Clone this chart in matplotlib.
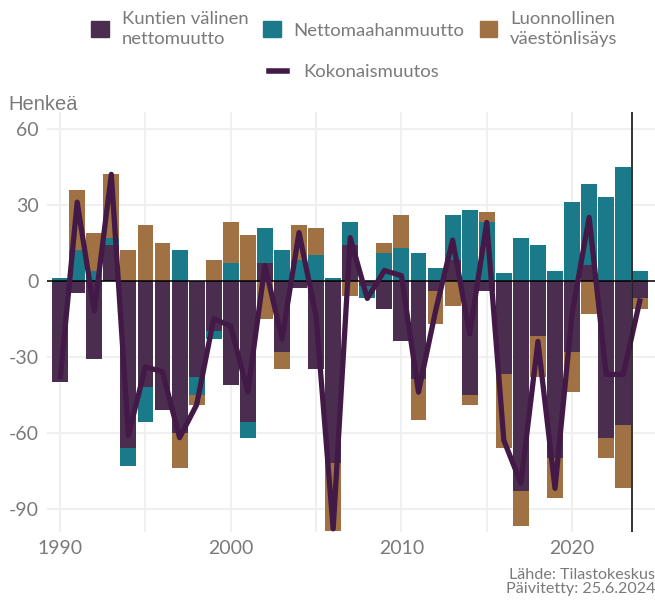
import numpy as np
import matplotlib.pyplot as plt
from matplotlib.patches import Patch
from matplotlib.lines import Line2D

plt.rcParams["axes.unicode_minus"] = False

years = list(range(1990, 2025))
kuntien = [-40, -5, -31, 14, -66, -42, -51, -60, -38, -20,
           -41, -56, 7, -28, -3, -35, -72, 14, -2, -11,
           -24, -39, -4, 8, -45, -4, -37, -83, -22, -70,
           -28, 6, -62, -57, -7]
netto = [1, 12, 4, 3, -7, -14, 0, 12, -7, -3,
         7, -6, 14, 12, 8, 10, 1, 9, -5, 11,
         13, 11, 5, 18, 28, 23, 3, 17, 14, 4,
         31, 32, 33, 45, 4]
luonn = [0, 24, 15, 25, 12, 22, 15, -14, -4, 8,
         16, 18, -15, -7, 14, 11, -27, -6, 0, 4,
         13, -16, -13, -10, -4, 4, -29, -14, -16, -16,
         -16, -13, -8, -25, -4]
kokonais = [-39, 31, -12, 42, -61, -34, -36, -62, -49, -15,
            -18, -44, 6, -23, 19, -14, -98, 17, -7, 4,
            2, -44, -12, 16, -21, 23, -63, -80, -24, -82,
            -13, 25, -37, -37, -7]
labels = ["Kuntien välinen\nnettomuutto", "Nettomaahanmuutto", "Luonnollinen\nväestönlisäys"]
colors = ["#4b2e4f", "#1b7a89", "#a07243"]
line_col = "#431a47"
grey = "#7a7a7a"

fig = plt.figure(figsize=(6.55, 6.01), dpi=100)
ax = fig.add_axes([0.072, 0.115, 0.928, 0.699])

pos = np.zeros(len(years))
neg = np.zeros(len(years))
for vals, col in zip([kuntien, netto, luonn], colors):
    v = np.array(vals, dtype=float)
    bottom = np.where(v >= 0, pos, neg)
    ax.bar(years, v, bottom=bottom, width=0.93, color=col, linewidth=0, zorder=2)
    pos += np.clip(v, 0, None)
    neg += np.clip(v, None, 0)

ax.plot(years, kokonais, color=line_col, lw=3.8, solid_joinstyle="round",
        solid_capstyle="butt", zorder=3)
ax.axhline(0, color="black", lw=1.1, zorder=2.5)
ax.axvline(2023.5, color="#222222", lw=1.3, zorder=4)

ax.set_xlim(1989.24, 2024.86)
ax.set_ylim(-99.2, 66.7)
ax.set_yticks([-90, -60, -30, 0, 30, 60])
ax.set_xticks([1990, 2000, 2010, 2020])
ax.set_xticks([1995, 2005, 2015], minor=True)
ax.grid(True, which="both", color="#f0f0f0", lw=1.4, zorder=0)
ax.tick_params(length=0, which="both", labelsize=14, labelcolor=grey, pad=6)
for lab in ax.get_xticklabels() + ax.get_yticklabels():
    lab.set_family("Lato")
for s in ax.spines.values():
    s.set_visible(False)

fig.text(8 / 655, 1 - 104 / 601, "Henkeä", fontsize=14.5, color=grey,
         family="Liberation Sans", va="center", ha="left")

prop = {"family": "Lato", "size": 13.3}
handles = [Patch(color=c) for c in colors]
leg1 = fig.legend(handles, labels, loc="center", bbox_to_anchor=(0.541, 1 - 29 / 601),
                  ncol=3, frameon=False, prop=prop,
                  handlelength=0.96, handleheight=0.96, handletextpad=0.7,
                  columnspacing=0.8, borderpad=0)
for t in leg1.get_texts():
    t.set_color(grey)
    t.set_linespacing(1.28)
leg2 = fig.legend([Line2D([0], [0], color=line_col, lw=4)], ["Kokonaismuutos"],
                  loc="center", bbox_to_anchor=(0.541, 1 - 72 / 601), frameon=False,
                  prop=prop, handlelength=0.96, handletextpad=0.9, borderpad=0)
for t in leg2.get_texts():
    t.set_color(grey)

fig.text(655 / 655, 1 - 575 / 601, "Lähde: Tilastokeskus", fontsize=11.6, color=grey,
         family="Lato", ha="right", va="center")
fig.text(655 / 655, 1 - 589 / 601, "Päivitetty: 25.6.2024", fontsize=11.6, color=grey,
         family="Lato", ha="right", va="center")

fig.savefig("out.png", dpi=100)
